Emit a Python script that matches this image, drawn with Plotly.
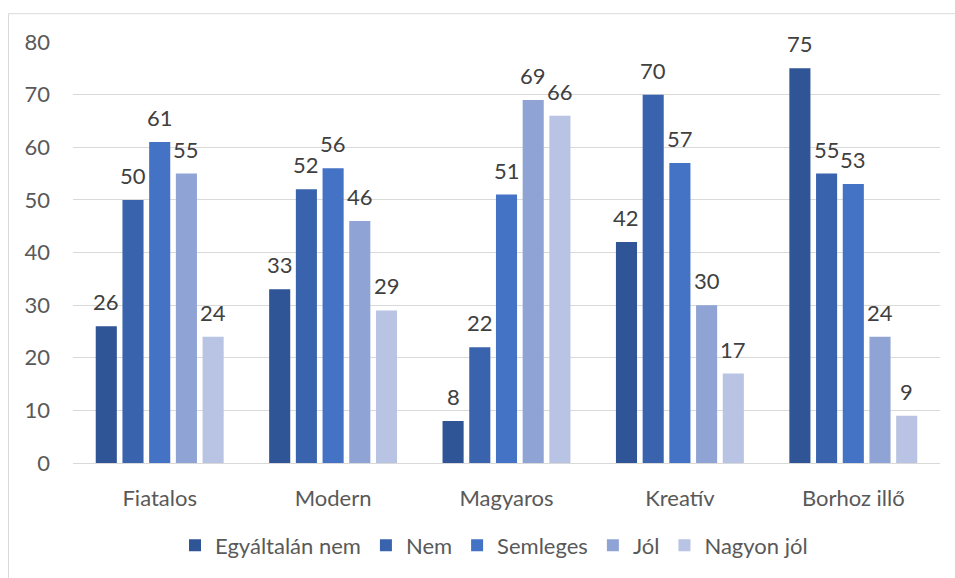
import plotly.graph_objects as go

categories = ["Fiatalos", "Modern", "Magyaros", "Kreatív", "Borhoz illő"]
series_names = ["Egyáltalán nem", "Nem", "Semleges", "Jól", "Nagyon jól"]
egyaltalan_nem = [26, 33, 8, 42, 75]
nem = [50, 52, 22, 70, 55]
semleges = [61, 56, 51, 57, 53]
jol = [55, 46, 69, 30, 24]
nagyon_jol = [24, 29, 66, 17, 9]
y_ticks = [0, 10, 20, 30, 40, 50, 60, 70, 80]

series_values = [egyaltalan_nem, nem, semleges, jol, nagyon_jol]
colors = ["#2F5597", "#3A63AE", "#4472C4", "#8FA3D5", "#B9C3E3"]

FONT = "Lato, Carlito, 'Liberation Sans', sans-serif"
FS = 22
BARGAP = 0.23

W, H = 955, 578
L, R, T, B = 73, 15, 42, 112
pw, ph = W - L - R, H - T - B

def px_x(p):
    return (p - L) / pw

def px_y(p):
    return (H - B - p) / ph

fig = go.Figure()
for name, vals, col in zip(series_names, series_values, colors):
    fig.add_trace(go.Bar(
        x=categories, y=vals, name=name,
        marker=dict(color=col, line=dict(width=0)),
    ))

# value labels above each bar, offset to the bar's slot within its group
n = len(series_names)
slot = pw / len(categories) * (1 - BARGAP) / n
annotations = []
for i, vals in enumerate(series_values):
    for cat, v in zip(categories, vals):
        annotations.append(dict(
            x=cat, y=v, xref="x", yref="y", text=str(v), showarrow=False,
            xanchor="center", yanchor="bottom",
            xshift=(i - (n - 1) / 2) * slot, yshift=9,
            font=dict(family=FONT, size=FS, color="#404040"),
        ))

fig.update_layout(
    width=W, height=H,
    margin=dict(l=L, r=R, t=T, b=B, pad=0),
    paper_bgcolor="white", plot_bgcolor="white",
    barmode="group", bargap=BARGAP, bargroupgap=0.21,
    font=dict(family=FONT, size=FS, color="#595959"),
    showlegend=True,
    legend=dict(
        orientation="h", x=px_x(494), xanchor="center",
        y=px_y(549), yanchor="middle",
        font=dict(family=FONT, size=FS, color="#595959"),
        traceorder="normal",
    ),
    xaxis=dict(
        showgrid=False, showline=True, linecolor="#D9D9D9", linewidth=1,
        ticks="", ticklabelstandoff=16,
        tickfont=dict(family=FONT, size=FS, color="#595959"),
    ),
    yaxis=dict(
        range=[0, 80], tickvals=y_ticks,
        showgrid=True, gridcolor="#D9D9D9", gridwidth=1,
        zeroline=False, showline=False, ticks="",
        ticklabelstandoff=22,
        tickfont=dict(family=FONT, size=FS, color="#595959"),
    ),
    annotations=annotations,
    shapes=[dict(
        type="rect", xref="paper", yref="paper",
        x0=px_x(8.5), x1=px_x(960), y0=px_y(13.5), y1=px_y(590),
        line=dict(color="#D9D9D9", width=1), fillcolor="rgba(0,0,0,0)",
        layer="below",
    )],
)

fig.write_html("out.html")
